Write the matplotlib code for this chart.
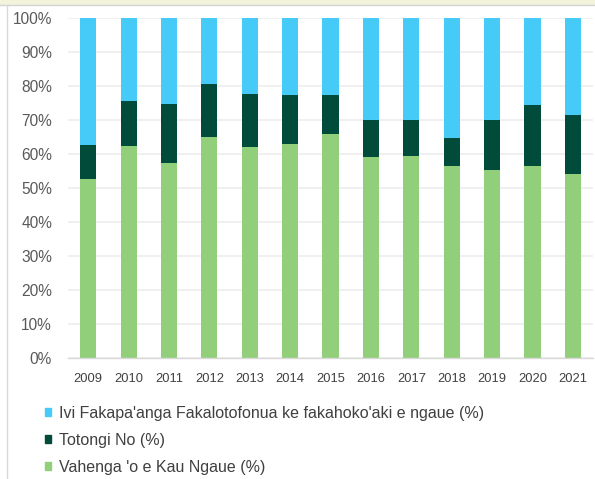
import matplotlib.pyplot as plt
from matplotlib.patches import Rectangle, Patch
from matplotlib.lines import Line2D
from matplotlib.ticker import PercentFormatter

years = ["2009", "2010", "2011", "2012", "2013", "2014", "2015",
         "2016", "2017", "2018", "2019", "2020", "2021"]
# shares in percent, bottom to top
vahenga = [52.6, 62.4, 57.4, 64.9, 62.0, 62.8, 65.9, 59.1, 59.4, 56.3, 55.1, 56.4, 53.9]
totongi = [10.0, 13.1, 17.3, 15.5, 15.5, 14.5, 11.3, 10.8, 10.5, 8.3, 14.9, 17.9, 17.5]
ivi = [37.4, 24.5, 25.3, 19.6, 22.5, 22.7, 22.8, 30.1, 30.1, 35.4, 30.0, 25.7, 28.6]

labels = ["Ivi Fakapa'anga Fakalotofonua ke fakahoko'aki e ngaue (%)",
          "Totongi No (%)",
          "Vahenga 'o e Kau Ngaue (%)"]
colors = ["#46cbf8", "#004b3a", "#92cf7b"]

plt.rcParams['font.family'] = ['Liberation Sans', 'DejaVu Sans']

W, H = 595, 479
fig = plt.figure(figsize=(W / 100, H / 100), dpi=100)
ax = fig.add_axes([68 / W, (H - 358) / H, (593 - 68) / W, (358 - 17.5) / H])

x = range(len(years))
bw = 0.4
ax.bar(x, vahenga, bw, color=colors[2], zorder=2)
ax.bar(x, totongi, bw, bottom=vahenga, color=colors[1], zorder=2)
tops = [a + b for a, b in zip(vahenga, totongi)]
ax.bar(x, ivi, bw, bottom=tops, color=colors[0], zorder=2)

ax.set_xlim(-0.5, len(years) - 0.5)
ax.set_ylim(0, 100)
ax.set_yticks(range(0, 101, 10))
ax.yaxis.set_major_formatter(PercentFormatter(decimals=0))
ax.set_xticks(list(x))
ax.set_xticklabels(years)
ax.grid(axis='y', color='#eeeeee', linewidth=1.2, zorder=0)
ax.set_axisbelow(True)
for s in ['top', 'right', 'left']:
    ax.spines[s].set_visible(False)
ax.spines['bottom'].set_color('#d9d9d9')
ax.spines['bottom'].set_linewidth(1)
ax.tick_params(axis='y', length=0, pad=11.5, labelsize=11.2, labelcolor='#595959')
ax.tick_params(axis='x', length=0, pad=10.5, labelsize=9.3, labelcolor='#404040')

# legend, top entry first
handles = [Patch(color=c) for c in colors]
fig.legend(handles, labels, loc='upper left', bbox_to_anchor=(45 / W, (H - 406) / H),
           frameon=False, fontsize=11.5, handlelength=0.4, handleheight=0.4,
           handletextpad=0.5, labelspacing=0.75, borderpad=0, borderaxespad=0,
           labelcolor='#404040')

# frame bits around the picture
fig.add_artist(Rectangle((0, (H - 3.5) / H), 1, 3.5 / H, transform=fig.transFigure,
                         color='#f3f3dc', zorder=0))
fig.add_artist(Line2D([0, 1], [(H - 4.5) / H] * 2, transform=fig.transFigure,
                      color='#d4d4d4', linewidth=1))
fig.add_artist(Line2D([6.5 / W] * 2, [0, (H - 4.5) / H], transform=fig.transFigure,
                      color='#d9d9d9', linewidth=1))

fig.savefig("out.png", dpi=100)
